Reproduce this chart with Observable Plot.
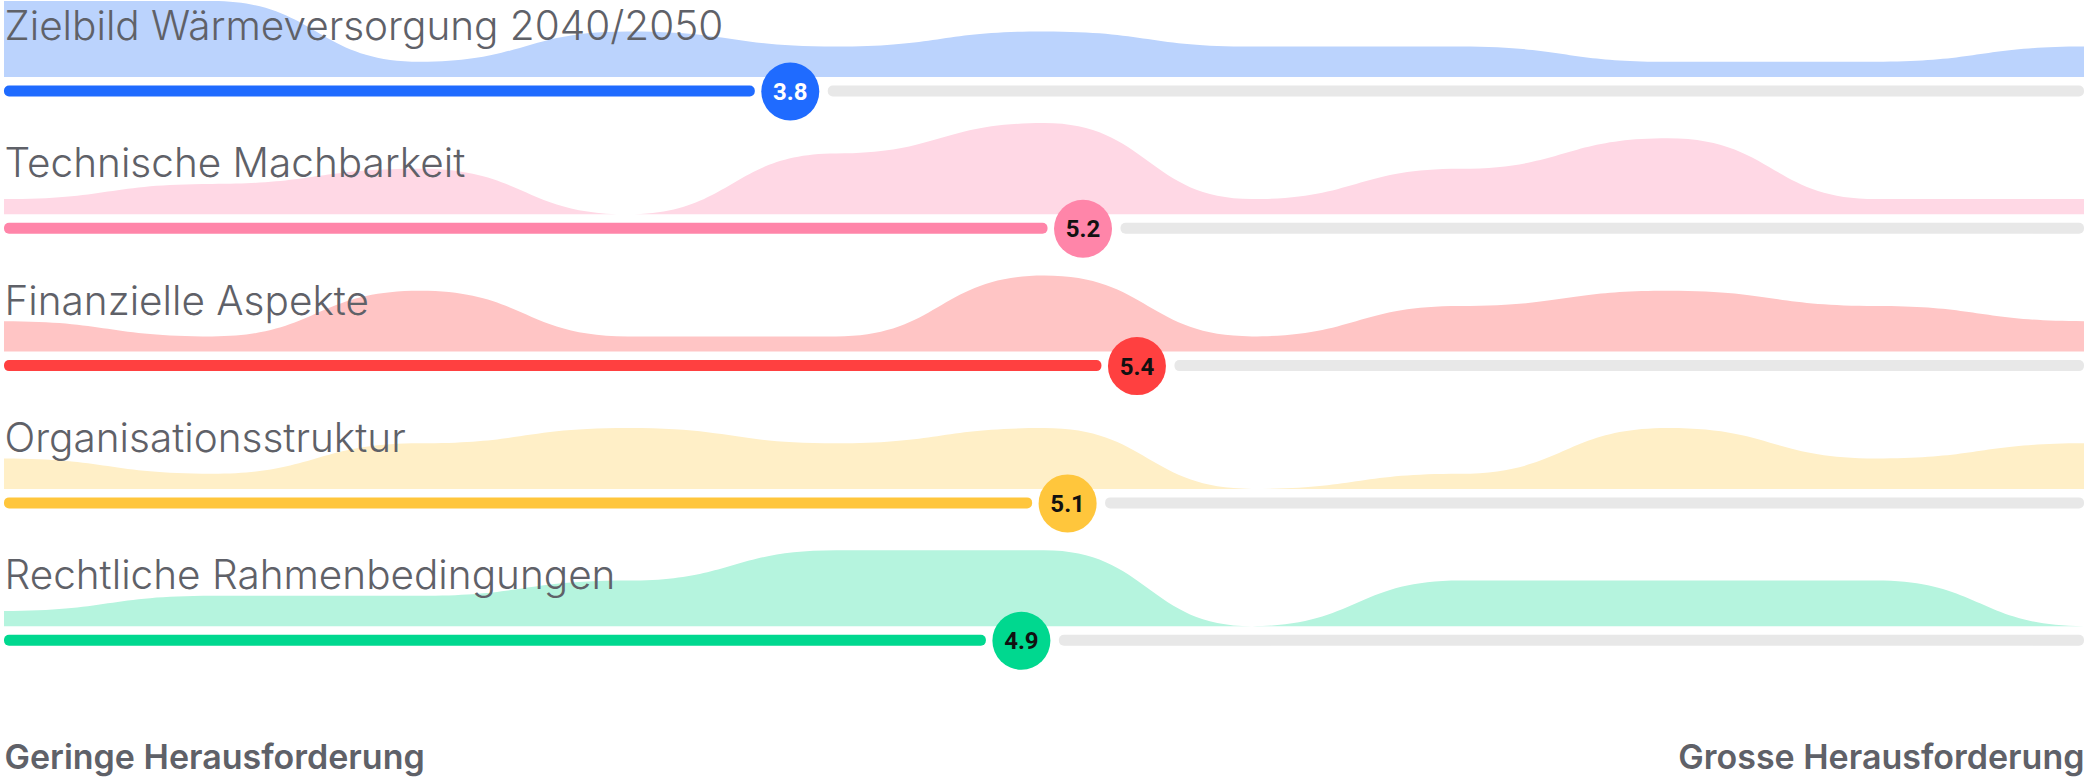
<!DOCTYPE html>
<html><head><meta charset="utf-8">
<script src="https://cdn.jsdelivr.net/npm/d3@7"></script>
<script src="https://cdn.jsdelivr.net/npm/@observablehq/plot@0.6"></script>
<style>
html,body{margin:0;padding:0;background:#fff;}
#chart svg{display:block;}
</style></head><body><div id="chart"></div>
<script>
// ---- data ----
const categories = ["Zielbild Wärmeversorgung 2040/2050", "Technische Machbarkeit", "Finanzielle Aspekte", "Organisationsstruktur", "Rechtliche Rahmenbedingungen"];
const ratings = [0, 1, 2, 3, 4, 5, 6, 7, 8, 9, 10];
const countsZielbild = [5, 5, 1, 3, 2, 3, 2, 2, 1, 1, 2];
const countsTechnik = [1, 2, 3, 0, 4, 6, 1, 3, 5, 1, 1];
const countsFinanzen = [2, 1, 4, 1, 1, 5, 1, 3, 4, 3, 2];
const countsOrganisation = [2, 1, 3, 4, 3, 4, 0, 1, 4, 2, 3];
const countsRecht = [1, 2, 2, 3, 5, 5, 0, 3, 3, 3, 0];
const barColors = ["#1f6bff", "#ff85a9", "#ff4040", "#ffc63c", "#00d88f"];
const areaColors = ["#bbd3fd", "#ffd8e5", "#ffc5c5", "#ffefc7", "#b5f4de"];
const valueColors = ["#ffffff", "#111111", "#111111", "#111111", "#111111"];
const axisLabels = ["Geringe Herausforderung", "Grosse Herausforderung"];

// ---- layout ----
const W = 2086, H = 779;
const unit = 15.2;          // px per respondent
const rowPx = 137.3;        // px between rows
const firstBase = 77;       // px of first baseline
const allCounts = [countsZielbild, countsTechnik, countsFinanzen, countsOrganisation, countsRecht];
const offset = r => -r * rowPx / unit;
const barOff = -14 / unit, barHalf = 5.5 / unit, titleOff = 37.5 / unit;

const rows = categories.map((name, r) => {
  const c = allCounts[r];
  const mean = d3.sum(c, (v, i) => v * ratings[i]) / d3.sum(c);
  return {
    r, name, mean, color: barColors[r], vcolor: valueColors[r],
    base: offset(r), barY: offset(r) + barOff, titleY: offset(r) + titleOff
  };
});

const marks = [];
allCounts.forEach((counts, r) => {
  const data = ratings.map((x, i) => ({x, y1: offset(r), y2: offset(r) + counts[i]}));
  marks.push(Plot.areaY(data, {x: "x", y1: "y1", y2: "y2", curve: "bump-x", fill: areaColors[r]}));
});
marks.push(
  Plot.rect(rows, {x1: "mean", x2: 10, y1: d => d.barY - barHalf, y2: d => d.barY + barHalf, fill: "#e8e8e8", rx: 5, insetLeft: 38}),
  Plot.rect(rows, {x1: 0, x2: "mean", y1: d => d.barY - barHalf, y2: d => d.barY + barHalf, fill: "color", rx: 5, insetRight: 35}),
  Plot.dot(rows, {x: "mean", y: "barY", r: 29, fill: "color"}),
  Plot.text(rows, {x: "mean", y: "barY", text: d => d.mean.toFixed(1), fill: "vcolor", fontSize: 24, fontWeight: 700, fontFamily: "Roboto", dy: 1}),
  Plot.text(rows, {x: 0, y: "titleY", text: "name", textAnchor: "start", lineAnchor: "bottom", fontSize: 40.5, fontWeight: 300, fill: "#5f6168"}),
  Plot.text([axisLabels[0]], {x: 0, frameAnchor: "bottom", text: d => d, textAnchor: "start", lineAnchor: "bottom", dy: -11, fontSize: 34, fontWeight: 600, fill: "#5f6168"}),
  Plot.text([axisLabels[1]], {x: 10, frameAnchor: "bottom", text: d => d, textAnchor: "end", lineAnchor: "bottom", dy: -11, fontSize: 34, fontWeight: 600, fill: "#5f6168"})
);

const chart = Plot.plot({
  width: W, height: H,
  marginLeft: 0, marginRight: 0, marginTop: 0, marginBottom: 0,
  style: {fontFamily: "Inter, sans-serif", background: "#fff"},
  x: {domain: [0, 10], range: [4, 2084], axis: null},
  y: {domain: [-(H - firstBase) / unit, firstBase / unit], range: [H, 0], axis: null},
  color: {type: "identity"},
  marks
});
document.getElementById("chart").appendChild(chart);
</script></body></html>
